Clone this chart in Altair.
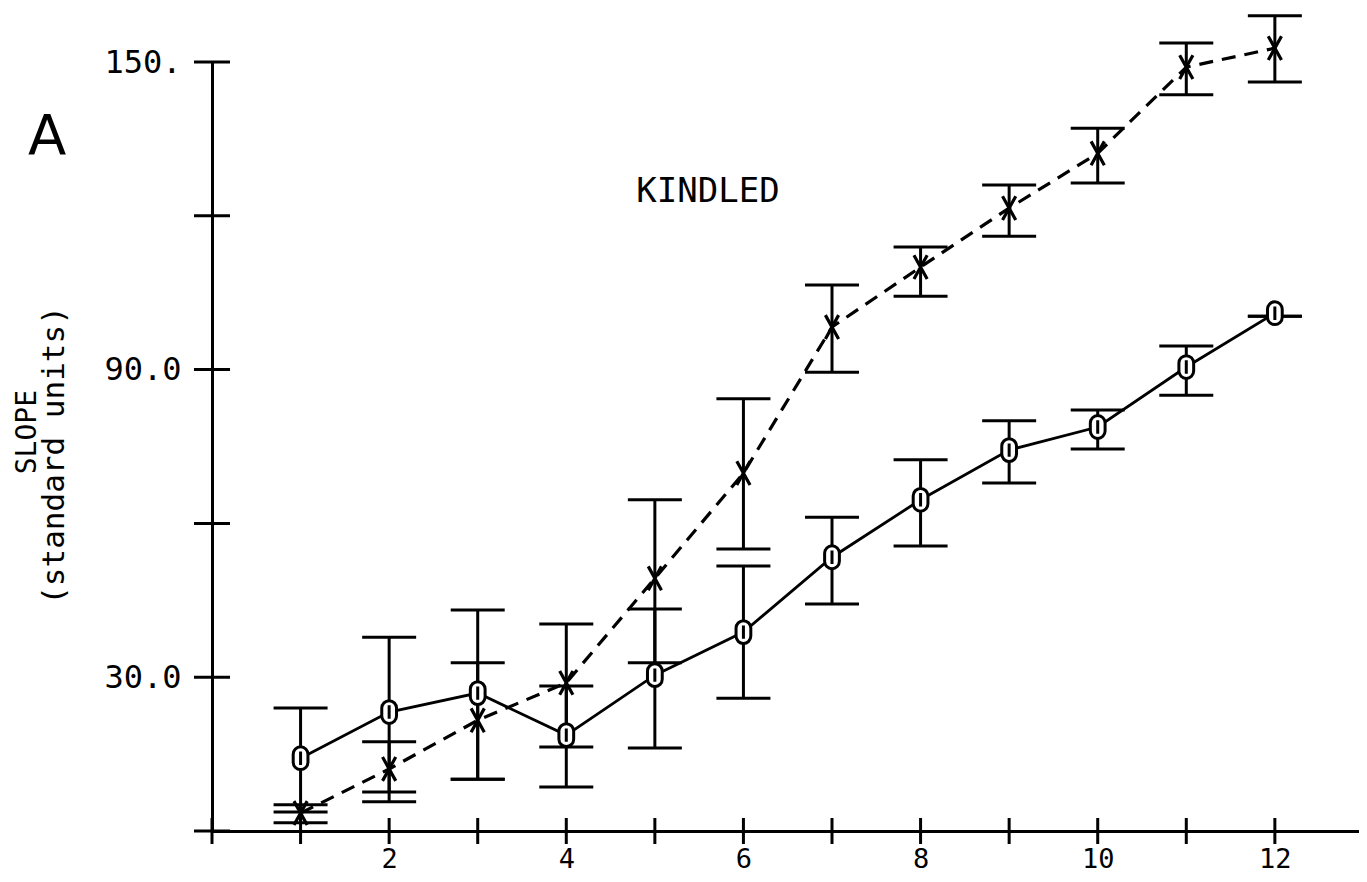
import altair as alt
import pandas as pd

# ---------------- data ----------------
sessions = [1, 2, 3, 4, 5, 6, 7, 8, 9, 10, 11, 12]

control_mean = [14.2, 23.2, 26.9, 18.7, 30.4, 38.8, 53.4, 64.6, 74.3, 78.8, 90.5, 101.0]
control_lo   = [3.7, 5.7, 10.1, 8.6, 16.2, 25.9, 44.3, 55.6, 67.9, 74.5, 85.0, 100.4]
control_hi   = [24.0, 37.8, 43.1, 28.3, 43.3, 51.7, 61.2, 72.4, 80.0, 82.1, 94.6, 100.4]

kindled_mean = [3.5, 12.1, 21.6, 28.9, 49.3, 69.8, 98.3, 110.0, 121.5, 132.2, 149.0, 152.7]
kindled_lo   = [1.6, 7.6, 10.1, 16.4, 32.8, 55.0, 89.5, 104.3, 116.0, 126.4, 143.6, 146.1]
kindled_hi   = [5.1, 17.4, 32.8, 40.4, 64.6, 84.3, 106.5, 113.9, 126.0, 137.1, 153.7, 159.0]

y_tick_values = [0, 30, 60, 90, 120, 150]
y_label_values = [30, 90, 150]
y_label_texts = ["30.0", "90.0", "150."]
x_tick_values = [0, 1, 2, 3, 4, 5, 6, 7, 8, 9, 10, 11, 12]
x_label_values = [2, 4, 6, 8, 10, 12]

y_title_line1 = "SLOPE"
y_title_line2 = "(standard units)"

annot_text = ["A", "KINDLED", "SLOPE"]
annot_x = [-1.86, 5.6, -2.08]
annot_y = [135.4, 124.7, 77.8]

# ---------------- tables ----------------
ctrl = pd.DataFrame({"s": sessions, "m": control_mean, "lo": control_lo, "hi": control_hi})
kind = pd.DataFrame({"s": sessions, "m": kindled_mean, "lo": kindled_lo, "hi": kindled_hi})
caps = pd.DataFrame({
    "s": sessions * 4,
    "v": control_lo + control_hi + kindled_lo + kindled_hi,
})
ytick_df = pd.DataFrame({"v": y_tick_values, "at": [0] * len(y_tick_values)})
xtick_df = pd.DataFrame({"v": x_tick_values, "at": [0] * len(x_tick_values)})
annot_df = pd.DataFrame({"t": annot_text, "x": annot_x, "y": annot_y})

MONO = "DejaVu Sans Mono"

label_expr = " : ".join(
    f"datum.value == {v} ? '{t}'" for v, t in zip(y_label_values[:-1], y_label_texts[:-1])
) + f" : '{y_label_texts[-1]}'"

xscale = alt.Scale(domain=[0, 12.95], nice=False, zero=False)
yscale = alt.Scale(domain=[0, 150], nice=False, zero=False)

xaxis = alt.Axis(
    values=x_label_values, ticks=False, tickSize=0, grid=False,
    domainColor="black", domainWidth=3,
    labelFont=MONO, labelFontSize=27, labelColor="black", labelPadding=15,
    labelFlush=False, labelOverlap=False, title=None,
)
yaxis = alt.Axis(
    values=y_label_values, ticks=False, tickSize=0, grid=False,
    domainColor="black", domainWidth=3,
    labelFont=MONO, labelFontSize=32, labelColor="black", labelPadding=31,
    labelExpr=label_expr, labelBaseline="middle", labelOverlap=False, labelFlush=False,
    title=y_title_line2, titleFont=MONO, titleFontSize=31,
    titleFontWeight="normal", titleColor="black", titleAngle=270,
    titleX=-158, titleY=393, titleAlign="center", titleBaseline="middle",
)


def X(field):
    return alt.X(field, type="quantitative", scale=xscale, axis=xaxis, title=None)


def Y(field):
    return alt.Y(field, type="quantitative", scale=yscale, axis=yaxis,
                 title=y_title_line2)


ytick_layer = alt.Chart(ytick_df).mark_tick(
    orient="horizontal", size=36, thickness=3, color="black", opacity=1
).encode(x=X("at"), y=Y("v"))

xtick_layer = alt.Chart(xtick_df).mark_tick(
    orient="vertical", size=26, thickness=3, color="black", opacity=1
).encode(x=X("v"), y=Y("at"))

rules_c = alt.Chart(ctrl).mark_rule(color="black", strokeWidth=3).encode(
    x=X("s"), y=Y("lo"), y2="hi")
rules_k = alt.Chart(kind).mark_rule(color="black", strokeWidth=3).encode(
    x=X("s"), y=Y("lo"), y2="hi")

cap_layer = alt.Chart(caps).mark_tick(
    orient="horizontal", size=54, thickness=3, color="black", opacity=1
).encode(x=X("s"), y=Y("v"))

line_c = alt.Chart(ctrl).mark_line(color="black", strokeWidth=2.8).encode(
    x=X("s"), y=Y("m"))
line_k = alt.Chart(kind).mark_line(color="black", strokeWidth=3.2, strokeDash=[14, 9]).encode(
    x=X("s"), y=Y("m"))

OVAL = ("M-0.66,-0.36A0.66,0.66,0,0,1,0.66,-0.36L0.66,0.36A0.66,0.66,0,0,1,-0.66,0.36Z"
        "M0,-0.6L0,0.6")
XMARK = "M-0.5,-0.9L0.5,0.9M0.5,-0.9L-0.5,0.9"

pts_c = alt.Chart(ctrl).mark_point(
    shape=OVAL, size=500, filled=True, fill="white", stroke="black",
    strokeWidth=3, opacity=1
).encode(x=X("s"), y=Y("m"))
pts_k = alt.Chart(kind).mark_point(
    shape=XMARK, size=700, filled=False, stroke="black", strokeWidth=3.2, opacity=1
).encode(x=X("s"), y=Y("m"))

annot_A = alt.Chart(annot_df[annot_df.t == "A"]).mark_text(
    font="DejaVu Sans", fontSize=56, color="black", align="center", baseline="middle"
).encode(x=X("x"), y=Y("y"), text="t")
annot_K = alt.Chart(annot_df[annot_df.t == "KINDLED"]).mark_text(
    font=MONO, fontSize=34, color="black", align="center", baseline="middle"
).encode(x=X("x"), y=Y("y"), text="t")
annot_S = alt.Chart(annot_df[annot_df.t == "SLOPE"]).mark_text(
    font=MONO, fontSize=28, color="black", align="center", baseline="middle", angle=270
).encode(x=X("x"), y=Y("y"), text="t")

chart = alt.layer(
    ytick_layer, xtick_layer, rules_c, rules_k, cap_layer,
    line_c, line_k, pts_c, pts_k, annot_A, annot_K, annot_S,
).properties(
    width=1147, height=769,
    autosize=alt.AutoSizeParams(type="none"),
    padding={"left": 204, "top": 54, "right": 0, "bottom": 43},
    background="white",
).configure_view(stroke=None)

chart.save("out.html", embed_options={"renderer": "svg", "actions": False})
